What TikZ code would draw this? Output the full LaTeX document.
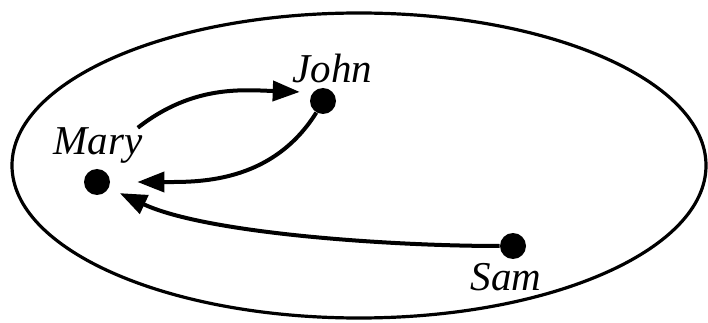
\documentclass[tikz,border=0pt]{standalone}
\usepackage{fontspec}
\setmainfont{Liberation Serif}
\usetikzlibrary{arrows.meta}

\begin{document}
\begin{tikzpicture}[
  x=0.5pt,
  y=0.5pt,
  person/.style={circle,fill=black,inner sep=0pt,minimum size=13pt},
  nametag/.style={anchor=base,inner sep=0pt,
    font=\fontsize{20.5}{24}\selectfont\itshape},
  link/.style={line width=2pt,-{Triangle[length=13.5pt,width=10pt]}}
]
  \useasboundingbox (0,0) rectangle (708,322);

  % Outer set.
  \draw[line width=1.6pt] (359,156.5) ellipse[x radius=347,y radius=152.5];

  % People and their names.
  \node[person] (mary) at (97,140) {};
  \node[person] (john) at (323,221) {};
  \node[person] (sam) at (513,76) {};
  \node[nametag] (marylbl) at (98,167) {Mary};
  \node[nametag] (johnlbl) at (332.5,239) {John};
  \node[nametag] (samlbl) at (506,32) {Sam};

  % Links.
  \draw[link,shorten >=6.5pt]
    ([xshift=-2.5pt]marylbl.north east) to[out=38,in=178] (john.140);
  \draw[link,shorten >=13.5pt]
    (john.240) to[out=-122,in=0] (mary.0);
  \draw[link,shorten >=6pt]
    (sam.180) to[out=180,in=-25,looseness=0.7] (mary.-27);
\end{tikzpicture}
\end{document}
